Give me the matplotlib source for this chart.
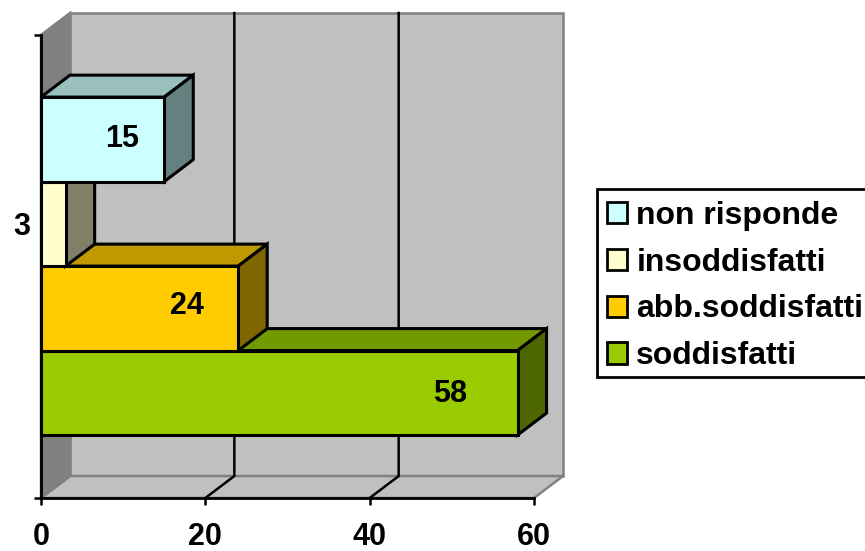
# -*- coding:utf-8 -*-
import matplotlib
matplotlib.use('Agg')
import matplotlib.pyplot as plt
from matplotlib.patches import Patch, Polygon, Rectangle

categories = ['soddisfatti', 'abb.soddisfatti', 'insoddisfatti', 'non risponde']
values = [58, 24, 3, 15]
front_colors = ['#99CC00', '#FFCC00', '#FFFFCC', '#CCFFFF']
top_colors = ['#739900', '#BF9900', '#BFBF99', '#99BFBF']
side_colors = ['#4D6600', '#806600', '#808066', '#668080']
x_ticks = [0, 20, 40, 60]

# label position: left of the bar end, small vertical nudge
label_back = [8.2, 6.2, 5.4, 5.1]
label_lift = [-0.01, 0.03, -0.04, 0.0]

# depth of the fake 3d box, in axis units
DX = 3.53
DY = 0.26
BAND = 1.0
BASE = 0.745
Y_TOP = 5.48
EDGE = 2.2

plt.rcParams['font.family'] = ['Liberation Sans', 'DejaVu Sans']
plt.rcParams['font.weight'] = 'bold'


def poly(ax, pts, color, edge='black', lw=EDGE, z=2):
    ax.add_patch(Polygon(pts, closed=True, facecolor=color, edgecolor=edge,
                         linewidth=lw, joinstyle='miter', clip_on=False, zorder=z))


def draw_walls(ax):
    gray = '#808080'
    # back wall, floor, left wall
    poly(ax, [(DX, DY), (60 + DX, DY), (60 + DX, Y_TOP + DY), (DX, Y_TOP + DY)], '#C0C0C0', gray, 1.8, 1)
    poly(ax, [(0, 0), (60, 0), (60 + DX, DY), (DX, DY)], '#C0C0C0', gray, 1.8, 1)
    poly(ax, [(0, 0), (DX, DY), (DX, Y_TOP + DY), (0, Y_TOP)], gray, gray, 1.8, 1)
    for x in x_ticks[1:3]:
        ax.plot([x, x + DX, x + DX], [0, DY, Y_TOP + DY], color='black', lw=1.8,
                clip_on=False, zorder=1.5, solid_joinstyle='miter')


def draw_bars(ax):
    for i, v in enumerate(values):
        y0 = BASE + i * BAND
        y1 = y0 + BAND
        z = 3 + i
        poly(ax, [(0, y1), (v, y1), (v + DX, y1 + DY), (DX, y1 + DY)], top_colors[i], z=z)
        poly(ax, [(v, y0), (v + DX, y0 + DY), (v + DX, y1 + DY), (v, y1)], side_colors[i], z=z)
        poly(ax, [(0, y0), (v, y0), (v, y1), (0, y1)], front_colors[i], z=z)
        ax.text(v - label_back[i], y0 + BAND / 2 + label_lift[i], str(v), ha='center', va='center',
                fontsize=22, fontweight='bold', color='black', zorder=10, clip_on=False)


def main():
    fig = plt.figure(figsize=(8.65, 5.51), dpi=100, facecolor='white')
    ax = fig.add_axes([41 / 865, 1 - 498 / 551, (534 - 41) / 865, (498 - 35) / 551])
    ax.set_xlim(0, 60)
    ax.set_ylim(0, Y_TOP)
    ax.patch.set_visible(False)

    draw_walls(ax)
    draw_bars(ax)

    ax.set_xticks(x_ticks)
    ax.set_yticks([0, Y_TOP])
    ax.set_yticklabels([])
    ax.tick_params(axis='x', length=5, width=1.8, pad=12, labelsize=22)
    ax.tick_params(axis='y', length=5, width=1.8)
    for s in ['top', 'right']:
        ax.spines[s].set_visible(False)
    for s in ['left', 'bottom']:
        ax.spines[s].set_linewidth(2.0)
        ax.spines[s].set_zorder(20)

    # legend box runs off the right side of the figure
    fig.add_artist(Rectangle((597 / 865, 1 - 377 / 551), 280 / 865, 188 / 551, transform=fig.transFigure,
                             facecolor='white', edgecolor='black', linewidth=2.0))

    # legend lists the top band first
    handles = [Patch(facecolor=front_colors[i], edgecolor='black', linewidth=2.0, label=categories[i])
               for i in range(3, -1, -1)]
    fig.legend(handles=handles, loc='upper left', bbox_to_anchor=(597 / 865, 1 - 191 / 551),
               borderaxespad=0, frameon=False,
               fontsize=23, labelspacing=0.53, handlelength=0.65, handleheight=0.65,
               handletextpad=0.28, borderpad=0.3)

    fig.savefig('out.png', dpi=100)


if __name__ == '__main__':
    main()
